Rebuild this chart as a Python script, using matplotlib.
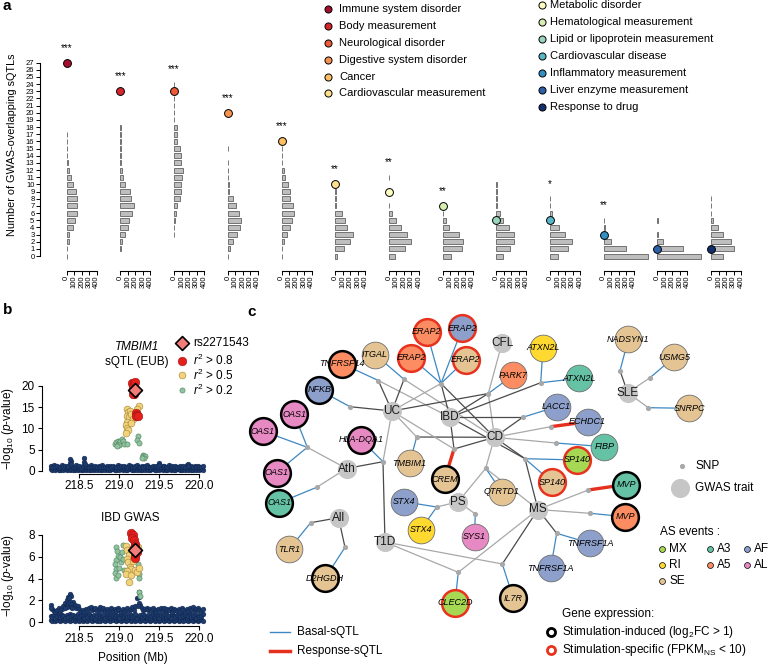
import matplotlib
matplotlib.use("Agg")
import matplotlib.pyplot as plt

plt.rcParams['font.family'] = ['Liberation Sans', 'DejaVu Sans']
plt.rcParams['mathtext.fontset'] = 'custom'
plt.rcParams['mathtext.rm'] = 'Liberation Sans'
plt.rcParams['mathtext.it'] = 'Liberation Sans:italic'
plt.rcParams['mathtext.bf'] = 'Liberation Sans:bold'

# ---------------- panel a data ----------------
a_categories = ["Immune system disorder", "Body measurement", "Neurological disorder",
                "Digestive system disorder", "Cancer", "Cardiovascular measurement",
                "Metabolic disorder", "Hematological measurement", "Lipid or lipoprotein measurement",
                "Cardiovascular disease", "Inflammatory measurement", "Liver enzyme measurement",
                "Response to drug"]
a_colors = ['#A50F2D', '#D7262B', '#EF5A38', '#F8934F', '#FDBF62', '#FDE08C', '#FEFEC0',
            '#D6EEB0', '#98D6BC', '#58B7C6', '#3290C2', '#2B61A8', '#132E6C']
a_observed = [27, 23, 23, 20, 16, 10, 9, 7, 5, 5, 3, 1, 1]
a_stars = ['***', '***', '***', '***', '***', '**', '**', '**', '', '*', '**', '', '']
# null distributions: number of permutations for each count (index = count)
a_null = [
    [4, 6, 27, 36, 80, 115, 142, 142, 133, 120, 89, 58, 31, 22, 10, 4, 4, 4],
    [0, 5, 27, 67, 98, 120, 155, 187, 142, 124, 67, 35, 22, 12, 8, 4, 4, 4, 4],
    [0, 0, 0, 4, 4, 8, 22, 44, 75, 98, 98, 107, 120, 98, 98, 75, 40, 40, 40, 4, 4, 4, 4, 4, 4],
    [3, 31, 75, 120, 164, 178, 155, 111, 67, 22, 22, 4, 4, 4, 0, 4],
    [4, 4, 27, 71, 107, 142, 160, 147, 115, 107, 93, 53, 31, 4, 4, 4],
    [27, 120, 196, 231, 160, 129, 84, 4, 4, 4],
    [80, 213, 293, 236, 160, 89, 40, 4, 0, 0, 0, 4],
    [116, 258, 271, 213, 89, 49, 4],
    [84, 178, 231, 231, 164, 89, 53, 4, 4, 4, 4],
    [102, 235, 289, 200, 124, 44, 31, 4, 4],
    [596, 293, 93, 8, 18, 4],
    [578, 338, 80, 8, 0, 4],
    [164, 311, 262, 155, 89, 22, 4, 4, 4],
]
a_xticks = [0, 100, 200, 300, 400]

# ---------------- panel b data ----------------
bg_x = [218.14, 218.16, 218.18, 218.20, 218.22, 218.24, 218.26, 218.28, 218.30, 218.32,
        218.34, 218.36, 218.38, 218.40, 218.42, 218.44, 218.46, 218.48, 218.50, 218.52,
        218.54, 218.56, 218.58, 218.60, 218.62, 218.64, 218.66, 218.68, 218.70, 218.72,
        218.74, 218.76, 218.78, 218.80, 218.82, 218.84, 218.86, 218.88, 218.90, 218.92,
        218.94, 218.96, 218.98, 219.00, 219.02, 219.04, 219.06, 219.08, 219.10, 219.12,
        219.14, 219.16, 219.18, 219.20, 219.22, 219.24, 219.26, 219.28, 219.30, 219.32,
        219.34, 219.36, 219.38, 219.40, 219.42, 219.44, 219.46, 219.48, 219.50, 219.52,
        219.54, 219.56, 219.58, 219.60, 219.62, 219.64, 219.66, 219.68, 219.70, 219.72,
        219.74, 219.76, 219.78, 219.80, 219.82, 219.84, 219.86, 219.88, 219.90, 219.92,
        219.94, 219.96, 219.98, 220.00, 220.02, 220.04]
sqtl_bg_lo = [0.3, 0.1, 0.4, 0.2, 0.3, 0.1, 0.2, 0.4, 0.1, 0.3,
              0.2, 0.4, 0.1, 0.3, 0.2, 0.1, 0.4, 0.2, 0.3, 0.1,
              0.2, 0.3, 0.1, 0.4, 0.2, 0.1, 0.3, 0.2, 0.4, 0.1,
              0.3, 0.2, 0.1, 0.4, 0.2, 0.3, 0.1, 0.2, 0.4, 0.3,
              0.1, 0.2, 0.3, 0.1, 0.4, 0.2, 0.3, 0.1, 0.2, 0.4,
              0.3, 0.1, 0.2, 0.4, 0.1, 0.3, 0.2, 0.1, 0.4, 0.2,
              0.3, 0.1, 0.2, 0.4, 0.3, 0.1, 0.2, 0.3, 0.1, 0.4,
              0.2, 0.3, 0.1, 0.2, 0.4, 0.1, 0.3, 0.2, 0.1, 0.3,
              0.4, 0.2, 0.1, 0.3, 0.2, 0.4, 0.1, 0.3, 0.2, 0.1,
              0.3, 0.2, 0.4, 0.1, 0.3, 0.2]
sqtl_bg_hi = [1.1, 0.8, 1.3, 0.9, 1.2, 0.7, 1.0, 1.3, 0.8, 1.1,
              0.9, 1.2, 2.8, 2.2, 1.0, 0.8, 1.3, 0.9, 1.1, 0.7,
              1.2, 3.0, 0.9, 1.1, 0.8, 1.3, 0.9, 1.0, 1.2, 0.8,
              1.1, 0.9, 1.3, 0.8, 1.0, 1.2, 0.7, 1.1, 0.9, 1.2,
              0.8, 1.0, 1.3, 0.9, 1.1, 0.8, 1.2, 1.0, 0.9, 1.3,
              1.1, 0.8, 1.0, 1.2, 1.4, 1.0, 0.9, 1.2, 0.8, 1.1,
              1.3, 0.9, 1.0, 0.8, 1.2, 0.9, 1.1, 1.0, 1.8, 0.8,
              1.1, 1.2, 0.9, 1.0, 1.3, 0.8, 1.1, 0.9, 1.2, 1.0,
              0.8, 1.2, 0.9, 1.1, 1.0, 1.3, 1.7, 0.9, 1.2, 0.8,
              1.1, 0.9, 1.2, 1.0, 0.8, 1.1]
sqtl_extra_x = [218.38, 218.40, 218.56, 218.57, 219.50, 219.86]
sqtl_extra_y = [1.9, 1.6, 2.0, 1.5, 1.3, 1.2]
sqtl_r2_02_x = [218.95, 218.96, 218.98, 218.99, 219.01, 219.03, 219.04, 219.00, 218.97, 219.06,
                219.09, 219.23, 219.22, 219.24, 219.29, 219.30, 219.32, 219.31, 219.28]
sqtl_r2_02_y = [6.3, 6.8, 7.1, 6.6, 7.0, 7.4, 6.9, 6.1, 5.9, 6.3,
                6.4, 8.3, 7.2, 6.6, 3.6, 3.4, 3.5, 2.9, 3.0]
sqtl_r2_05_x = [219.09, 219.11, 219.13, 219.10, 219.12, 219.15, 219.17, 219.09, 219.08, 219.10,
                219.11, 219.24, 219.22, 219.08, 219.14]
sqtl_r2_05_y = [14.6, 13.8, 14.2, 13.0, 12.6, 13.4, 12.2, 11.6, 10.8, 10.2,
                9.6, 15.3, 14.6, 8.9, 11.2]
sqtl_r2_08_x = [219.16, 219.18, 219.17, 219.19, 219.20, 219.18, 219.17, 219.21, 219.22, 219.21, 219.23, 219.20]
sqtl_r2_08_y = [20.8, 20.6, 19.8, 19.4, 18.6, 18.2, 18.0, 13.6, 13.2, 12.8, 13.0, 21.0]
sqtl_lead = (219.19, 19.1)

gwas_bg_lo = [0.2, 0.1, 0.3, 0.1, 0.2, 0.3, 0.1, 0.2, 0.3, 0.1,
              0.3, 0.2, 0.1, 0.3, 0.2, 0.1, 0.3, 0.2, 0.1, 0.2,
              0.1, 0.3, 0.2, 0.1, 0.3, 0.2, 0.1, 0.2, 0.3, 0.1,
              0.2, 0.1, 0.3, 0.2, 0.1, 0.3, 0.2, 0.1, 0.3, 0.2,
              0.3, 0.1, 0.2, 0.3, 0.1, 0.2, 0.3, 0.1, 0.2, 0.3,
              0.1, 0.2, 0.3, 0.1, 0.2, 0.3, 0.1, 0.2, 0.3, 0.1,
              0.2, 0.3, 0.1, 0.2, 0.3, 0.1, 0.2, 0.3, 0.1, 0.2,
              0.3, 0.1, 0.2, 0.3, 0.1, 0.2, 0.3, 0.1, 0.2, 0.3,
              0.1, 0.2, 0.3, 0.1, 0.2, 0.3, 0.1, 0.2, 0.3, 0.1,
              0.2, 0.3, 0.1, 0.2, 0.3, 0.1]
gwas_bg_mid = [0.6, 0.5, 0.7, 0.4, 0.6, 0.8, 0.5, 0.7, 0.6, 0.4,
               0.7, 0.5, 0.8, 0.6, 0.7, 0.5, 0.6, 0.8, 0.5, 0.7,
               0.6, 0.4, 0.7, 0.5, 0.8, 0.6, 0.5, 0.7, 0.4, 0.6,
               0.8, 0.5, 0.6, 0.7, 0.4, 0.6, 0.8, 0.5, 0.7, 0.6,
               0.5, 0.7, 0.6, 0.4, 0.8, 0.5, 0.6, 0.7, 0.5, 0.6,
               0.7, 0.5, 0.6, 0.8, 0.4, 0.6, 0.7, 0.5, 0.8, 0.6,
               0.5, 0.7, 0.4, 0.6, 0.8, 0.5, 0.7, 0.6, 0.4, 0.7,
               0.6, 0.8, 0.5, 0.7, 0.6, 0.4, 0.8, 0.6, 0.5, 0.7,
               0.6, 0.5, 0.8, 0.6, 0.7, 0.4, 0.6, 0.8, 0.5, 0.7,
               0.6, 0.4, 0.7, 0.5, 0.6, 0.8]
gwas_bg_hi = [1.6, 1.2, 1.0, 0.9, 1.1, 1.3, 1.0, 1.2, 1.5, 1.8,
              2.0, 2.3, 2.6, 2.4, 1.9, 1.6, 1.3, 1.5, 1.2, 1.0,
              1.1, 0.9, 1.2, 1.0, 1.3, 1.4, 1.1, 1.2, 1.3, 1.0,
              1.2, 1.4, 1.1, 1.3, 1.0, 1.2, 0.9, 1.1, 1.3, 1.0,
              1.2, 1.0, 1.3, 1.1, 0.9, 1.2, 1.0, 1.1, 1.3, 1.0,
              1.2, 1.4, 1.1, 1.5, 2.2, 2.8, 1.6, 1.3, 1.1, 1.2,
              1.3, 1.1, 1.2, 1.0, 1.3, 1.1, 0.9, 1.2, 1.0, 1.3,
              1.1, 1.3, 1.0, 1.2, 1.1, 1.3, 0.9, 1.2, 1.1, 1.0,
              1.2, 1.0, 1.3, 1.1, 0.9, 1.2, 1.0, 1.3, 1.1, 1.4,
              1.0, 1.2, 1.3, 1.1, 1.0, 1.2]
gwas_extra_x = [218.34, 218.36, 218.38, 218.40, 218.37, 218.35, 218.39, 218.41, 218.32, 219.24, 219.25, 219.23, 218.15]
gwas_extra_y = [1.6, 1.8, 1.9, 1.7, 2.2, 1.4, 1.4, 1.3, 1.3, 1.8, 2.3, 1.5, 1.3]
gwas_r2_02_x = [218.96, 218.97, 218.98, 218.96, 218.95, 218.96, 218.95, 218.96, 218.98, 219.00,
                219.02, 219.01, 219.03, 219.04, 219.05, 219.06, 219.24, 219.25, 219.23, 219.25, 219.26]
gwas_r2_02_y = [6.9, 6.5, 6.1, 5.7, 5.3, 4.9, 4.5, 4.1, 4.3, 5.0,
                5.5, 6.0, 6.4, 7.1, 5.8, 4.8, 4.4, 4.1, 5.3, 2.8, 2.4]
gwas_r2_05_x = [219.08, 219.10, 219.12, 219.09, 219.11, 219.13, 219.15, 219.10, 219.08, 219.14,
                219.17, 219.20, 219.22, 219.24, 219.12, 219.23]
gwas_r2_05_y = [7.0, 6.6, 6.2, 5.8, 5.5, 5.1, 4.9, 4.7, 4.4, 4.3,
                5.6, 4.8, 4.6, 5.0, 3.7, 6.9]
gwas_r2_08_x = [219.15, 219.17, 219.16, 219.18, 219.19, 219.20, 219.18, 219.21, 219.20, 219.22, 219.19]
gwas_r2_08_y = [8.2, 8.0, 7.7, 7.5, 7.2, 7.0, 6.8, 6.5, 6.2, 6.4, 5.9]
gwas_lead = (219.19, 6.6)

# ---------------- panel c data ----------------
as_colors = {'MX': '#A6D854', 'RI': '#FFD92F', 'SE': '#E5C494', 'A3': '#66C2A5',
             'A5': '#FC8D62', 'AF': '#8DA0CB', 'AL': '#E78AC3'}
traits = {'UC': (392, 411), 'IBD': (450, 417.3), 'CD': (494.5, 437.3), 'CFL': (502, 343),
          'Ath': (346.5, 468.5), 'All': (338.5, 517.7), 'T1D': (385, 542), 'PS': (458.3, 501.7),
          'MS': (538, 509.5), 'SLE': (627.7, 392.7)}
# gene name, layout x, layout y, AS event, expression class
genes = [
    ('ERAP2', 426.7, 331.7, 'A5', 'spec'), ('ERAP2', 462.3, 328.3, 'AF', 'spec'),
    ('ERAP2', 411.3, 357.7, 'A5', 'spec'), ('ERAP2', 465.5, 360, 'SE', 'spec'),
    ('ITGAL', 375, 354.5, 'SE', ''), ('TNFRSF14', 342, 363.7, 'A5', 'ind'),
    ('NFKB', 319.3, 390, 'AF', 'ind'), ('OAS1', 294.3, 414.3, 'AL', 'ind'),
    ('OAS1', 262.7, 431, 'AL', 'ind'), ('OAS1', 276.7, 472.5, 'AL', 'ind'),
    ('OAS1', 279.3, 502.7, 'A3', 'ind'), ('HLA-DQA1', 361, 439.7, 'AL', 'ind'),
    ('TMBIM1', 409.5, 463.3, 'SE', ''), ('CREM', 444.7, 479, 'SE', 'ind'),
    ('PARK7', 513.3, 375, 'A5', ''), ('ATXN2L', 543, 347.5, 'RI', ''),
    ('ATXN2L', 579.3, 378.3, 'A3', ''), ('LACC1', 556.7, 406.7, 'AF', ''),
    ('ECHDC1', 587.7, 421.7, 'AF', ''), ('FIBP', 604.3, 446.7, 'A3', ''),
    ('SP140', 577.3, 460, 'MX', 'spec'), ('SP140', 552, 482.2, 'SE', 'spec'),
    ('MVP', 626, 484.5, 'A3', 'ind'), ('MVP', 625, 516.7, 'A5', 'ind'),
    ('QTRTD1', 501.7, 491.7, 'SE', ''), ('STX4', 403.7, 501.7, 'AF', ''),
    ('STX4', 420.5, 530, 'RI', ''), ('SYS1', 474.5, 536.7, 'AL', ''),
    ('TNFRSF1A', 590, 543.3, 'AF', ''), ('TNFRSF1A', 550.7, 568.3, 'AF', ''),
    ('IL7R', 513.3, 598.3, 'SE', 'ind'), ('CLEC2D', 455, 602.7, 'MX', 'spec'),
    ('TLR1', 289.3, 549, 'SE', ''), ('D2HGDH', 325, 578.3, 'SE', 'ind'),
    ('NADSYN1', 628.3, 339.3, 'SE', ''), ('USMG5', 674, 357.3, 'SE', ''),
    ('SNRPC', 689, 408.3, 'SE', ''),
]
# snp x, y, linked traits (d = dark, l = light), linked genes (b = basal, r = response)
snps = [
    (378.3, 380.5, [('UC', 'd'), ('IBD', 'l')], [(5, 'b')]),
    (404, 379.3, [('UC', 'd'), ('CD', 'l')], [(4, 'b')]),
    (441, 383.5, [('UC', 'l'), ('IBD', 'd'), ('CD', 'd')], [(0, 'b'), (1, 'b'), (2, 'b'), (3, 'b')]),
    (488.3, 393.5, [('CFL', 'l'), ('UC', 'd'), ('IBD', 'd'), ('CD', 'l')], [(14, 'b')]),
    (540.7, 382.7, [('IBD', 'd')], [(15, 'b'), (16, 'b')]),
    (350, 406.7, [('UC', 'd')], [(6, 'b')]),
    (522.7, 417.3, [('IBD', 'd'), ('CD', 'd')], [(17, 'b')]),
    (550.7, 426.7, [('CD', 'l')], [(18, 'r')]),
    (556, 443, [('CD', 'l')], [(19, 'b')]),
    (525, 458.7, [('CD', 'd'), ('MS', 'd'), ('IBD', 'd')], [(20, 'b'), (21, 'b')]),
    (416.7, 437, [('UC', 'l'), ('CD', 'd')], [(12, 'b')]),
    (454, 449, [('IBD', 'd'), ('CD', 'd'), ('UC', 'l')], [(13, 'r')]),
    (383, 461.7, [('UC', 'l'), ('Ath', 'd'), ('T1D', 'd')], [(11, 'b')]),
    (485.7, 468.3, [('CD', 'l'), ('PS', 'l'), ('MS', 'l')], [(24, 'b')]),
    (307.3, 447.3, [('Ath', 'l')], [(7, 'b'), (8, 'b'), (9, 'b')]),
    (316.7, 487.3, [('Ath', 'l')], [(10, 'b')]),
    (436.7, 507, [('PS', 'l')], [(25, 'b'), (26, 'b')]),
    (475.3, 514, [('PS', 'l')], [(27, 'b')]),
    (310.7, 522.7, [('All', 'd')], [(32, 'b')]),
    (345, 547.3, [('All', 'd')], [(33, 'b')]),
    (458.3, 572.3, [('T1D', 'l'), ('MS', 'l')], [(31, 'b')]),
    (502.3, 564, [('T1D', 'l'), ('MS', 'd')], [(30, 'b')]),
    (556.7, 533.3, [('MS', 'd')], [(28, 'b'), (29, 'b')]),
    (588.3, 490, [('MS', 'l')], [(22, 'r')]),
    (590, 513.3, [('MS', 'l')], [(23, 'b')]),
    (620, 370.7, [('SLE', 'd')], [(34, 'b')]),
    (650, 377.7, [('SLE', 'l')], [(35, 'b')]),
    (648.3, 407.7, [('SLE', 'l')], [(36, 'b')]),
]

W, H = 769, 665
fig = plt.figure(figsize=(W / 100, H / 100), dpi=100)


def rect(x0, y0, x1, y1):
    return [x0 / W, 1 - y1 / H, (x1 - x0) / W, (y1 - y0) / H]


# ================= panel a =================
A_TOP, A_BOT = 55.5, 263.2
ay = fig.add_axes(rect(40, A_TOP, 60, A_BOT))
ay.set_ylim(-1, 28)
for s in ['right', 'top', 'bottom']:
    ay.spines[s].set_visible(False)
ay.spines['left'].set_bounds(0, 27)
ay.spines['left'].set_linewidth(0.8)
ay.set_yticks(range(28))
ay.tick_params(axis='y', labelsize=5.5, length=3, width=0.7, pad=1)
ay.set_xticks([])
ay.patch.set_visible(False)
fig.text(12 / W, 1 - 145 / H, "Number of GWAS-overlapping sQTLs", rotation=90,
         ha='center', va='center', fontsize=7.8)

for i, (cnts, obs, st, colr) in enumerate(zip(a_null, a_observed, a_stars, a_colors)):
    cx = 66.7 + 53.7 * i
    ax = fig.add_axes(rect(cx, A_TOP, cx + 54, A_BOT))
    ys = [k for k, c in enumerate(cnts) if c > 0]
    ws = [cnts[k] for k in ys]
    ax.barh(ys, ws, height=0.7, color='#BEBEBE', edgecolor='#555555', linewidth=0.55, clip_on=False)
    ax.set_xlim(0, 720)
    ax.set_ylim(-1, 28)
    ax.patch.set_visible(False)
    for s in ['left', 'right', 'top']:
        ax.spines[s].set_visible(False)
    ax.spines['bottom'].set_position(('outward', 5.4))
    ax.spines['bottom'].set_bounds(0, 400)
    ax.spines['bottom'].set_linewidth(0.8)
    ax.set_xticks(a_xticks)
    ax.set_xticklabels([str(t) for t in a_xticks], rotation=90)
    ax.tick_params(axis='x', labelsize=5.5, length=2.6, width=0.7, pad=1)
    ax.set_yticks([])
    ax.scatter([0], [obs], s=32, color=colr, edgecolor='black', linewidth=0.7, zorder=5, clip_on=False)
    if st:
        ax.text(0, max(obs, len(cnts) - 1) + 2.1, st, ha='center', va='center', fontsize=7)

# ================= panel b =================
def style_b(ax, yt):
    ax.set_xlim(218.08, 220.1)
    ax.patch.set_visible(False)
    for s in ['right', 'top']:
        ax.spines[s].set_visible(False)
    ax.spines['left'].set_position(('outward', 2.9))
    ax.spines['left'].set_bounds(yt[0], yt[-1])
    ax.spines['bottom'].set_bounds(218.5, 220.0)
    for s in ['left', 'bottom']:
        ax.spines[s].set_linewidth(0.8)
    ax.set_yticks(yt)
    ax.set_xticks([218.5, 219.0, 219.5, 220.0])
    ax.set_xticklabels(['218.5', '219.0', '219.5', '220.0'])
    ax.tick_params(labelsize=8.5, length=3, width=0.8, pad=2)


def draw_locus(ax, layers, ex, ey, g, y5, r, lead):
    for ly in layers:
        ax.scatter(bg_x[:len(ly)], ly, s=12, color='#1C3B6C', edgecolor='#0D2248', linewidth=0.3, zorder=2, clip_on=False)
    ax.scatter(ex, ey, s=12, color='#1C3B6C', edgecolor='#0D2248', linewidth=0.3, zorder=2)
    ax.scatter(g[0], g[1], s=14, color='#8FC49E', edgecolor='#4E7F5E', linewidth=0.4, zorder=3)
    ax.scatter(y5[0], y5[1], s=24, color='#F2D27A', edgecolor='#A08436', linewidth=0.4, zorder=4)
    ax.scatter(r[0], r[1], s=38, color='#E3201B', edgecolor='#A01414', linewidth=0.4, zorder=5)
    ax.scatter([lead[0]], [lead[1]], s=50, marker='D', color='#F27C78', edgecolor='black', linewidth=1.2, zorder=6)


bt = fig.add_axes(rect(45.7, 377.5, 207.3, 473.5))
bt.set_ylim(-0.65, 22)
draw_locus(bt, [sqtl_bg_lo, sqtl_bg_hi], sqtl_extra_x, sqtl_extra_y,
           (sqtl_r2_02_x, sqtl_r2_02_y), (sqtl_r2_05_x, sqtl_r2_05_y), (sqtl_r2_08_x, sqtl_r2_08_y), sqtl_lead)
style_b(bt, [0, 5, 10, 15, 20])

bb = fig.add_axes(rect(45.7, 528.4, 207.3, 626.1))
bb.set_ylim(-0.35, 8.6)
draw_locus(bb, [gwas_bg_lo, gwas_bg_mid, gwas_bg_hi], gwas_extra_x, gwas_extra_y,
           (gwas_r2_02_x, gwas_r2_02_y), (gwas_r2_05_x, gwas_r2_05_y), (gwas_r2_08_x, gwas_r2_08_y), gwas_lead)
style_b(bb, [0, 2, 4, 6, 8])

ylab = "\u2212log$_{10}$ ($p$-value)"
fig.text(8 / W, 1 - 428 / H, ylab, rotation=90, ha='center', va='center', fontsize=8.5)
fig.text(8 / W, 1 - 575 / H, ylab, rotation=90, ha='center', va='center', fontsize=8.5)

# ================= overlay (legends, panel c) =================
ov = fig.add_axes([0, 0, 1, 1])
ov.set_xlim(0, W)
ov.set_ylim(H, 0)
ov.axis('off')

# panel labels
for lab, x, y in [('a', 7, 6), ('b', 8, 310), ('c', 252, 312)]:
    ov.text(x, y, lab, fontsize=11, fontweight='bold', ha='center', va='center')

# panel a legend
leg_rows_1 = [9.3, 25.7, 43, 60, 76.7, 93.3]
leg_rows_2 = [5, 22, 39, 56.3, 73.3, 90, 107.3]
for k, (name, colr) in enumerate(zip(a_categories, a_colors)):
    if k < 6:
        mx, tx, y = 327.7, 339.3, leg_rows_1[k]
    else:
        mx, tx, y = 541.7, 550.5, leg_rows_2[k - 6]
    ov.scatter([mx], [y], s=26, color=colr, edgecolor='black', linewidth=0.7)
    ov.text(tx, y, name, fontsize=8, va='center', ha='left')

# panel b titles and legend
ov.text(137, 346.7, "TMBIM1", fontsize=8.5, style='italic', ha='center', va='center')
ov.text(137, 361.7, "sQTL (EUB)", fontsize=8.5, ha='center', va='center')
ov.text(130, 518.3, "IBD GWAS", fontsize=8.5, ha='center', va='center')
ov.text(133, 658.3, "Position (Mb)", fontsize=8.5, ha='center', va='center')
ov.scatter([181.7], [343.3], s=50, marker='D', color='#F27C78', edgecolor='black', linewidth=1.2)
ov.scatter([181.7], [360.7], s=38, color='#E3201B', edgecolor='#A01414', linewidth=0.4)
ov.scatter([181.7], [375.3], s=24, color='#F2D27A', edgecolor='#A08436', linewidth=0.4)
ov.scatter([181.7], [390], s=14, color='#8FC49E', edgecolor='#4E7F5E', linewidth=0.4)
for y, t in [(343.3, "rs2271543"), (360.7, "$r^2$ > 0.8"), (375.3, "$r^2$ > 0.5"), (390, "$r^2$ > 0.2")]:
    ov.text(193, y, t, fontsize=8.5, va='center', ha='left')

# panel c network
edge_style = {'d': ('#4A4A4A', 0.9), 'l': ('#A8A8A8', 0.9), 'b': ('#3D88C2', 0.9), 'r': ('#E4301C', 2.4)}
for sx, sy, tl, gl in snps:
    for t, kind in tl:
        c, lw = edge_style[kind]
        tx, ty = traits[t]
        ov.plot([sx, tx], [sy, ty], color=c, lw=lw, zorder=1, solid_capstyle='butt')
    for gi, kind in gl:
        c, lw = edge_style[kind]
        ov.plot([sx, genes[gi][1]], [sy, genes[gi][2]], color=c, lw=lw, zorder=1, solid_capstyle='butt')

ov.scatter([s[0] for s in snps], [s[1] for s in snps], s=14, color='#A8A8A8', zorder=3, linewidth=0)
ov.scatter([v[0] for v in traits.values()], [v[1] for v in traits.values()], s=190, color='#C6C6C6',
           zorder=3, linewidth=0)
for t, (x, y) in traits.items():
    ov.text(x, y, t, fontsize=8.5, ha='center', va='center', color='#1A1A1A', zorder=6)

ring = {'': ('#6E6E6E', 0.6), 'ind': ('black', 1.8), 'spec': ('#E8321E', 1.8)}
for name, x, y, ev, ex in genes:
    ec, lw = ring[ex]
    ov.scatter([x], [y], s=370, color=as_colors[ev], edgecolor=ec, linewidth=lw, zorder=4)
    ov.text(x, y, name, fontsize=6.5, style='italic', ha='center', va='center', zorder=6)

# panel c legends
ov.scatter([681.7], [466], s=14, color='#A8A8A8', linewidth=0)
ov.text(695, 466, "SNP", fontsize=8.5, va='center')
ov.scatter([680], [488.3], s=190, color='#C6C6C6', linewidth=0)
ov.text(695, 488.3, "GWAS trait", fontsize=8.5, va='center')
ov.text(660, 531.7, "AS events :", fontsize=8.5, va='center')
as_leg = [('MX', 662.3, 549.3), ('A3', 710, 549.3), ('AF', 746.7, 549.3),
          ('RI', 662.3, 565), ('A5', 710, 565), ('AL', 746.7, 565), ('SE', 662.3, 580.5)]
for ev, x, y in as_leg:
    ov.scatter([x], [y], s=18, color=as_colors[ev], edgecolor='black', linewidth=0.5)
    ov.text(x + 7, y, ev, fontsize=8.5, va='center')
ov.text(561.7, 614.3, "Gene expression:", fontsize=8.5, va='center')
ov.scatter([551], [631.7], s=34, color='white', edgecolor='black', linewidth=2)
ov.text(561.7, 631.7, "Stimulation-induced (log$_2$FC > 1)", fontsize=8.5, va='center')
ov.scatter([551], [650], s=34, color='white', edgecolor='#E8321E', linewidth=2)
ov.text(561.7, 650, "Stimulation-specific (FPKM$_{\\mathrm{NS}}$ < 10)", fontsize=8.5, va='center')
ov.plot([270, 290], [632.3, 632.3], color='#3D88C2', lw=1)
ov.text(296.7, 632.3, "Basal-sQTL", fontsize=8.5, va='center')
ov.plot([270, 290], [651, 651], color='#E4301C', lw=2.5)
ov.text(296.7, 651, "Response-sQTL", fontsize=8.5, va='center')

fig.savefig("out.png", dpi=100)
